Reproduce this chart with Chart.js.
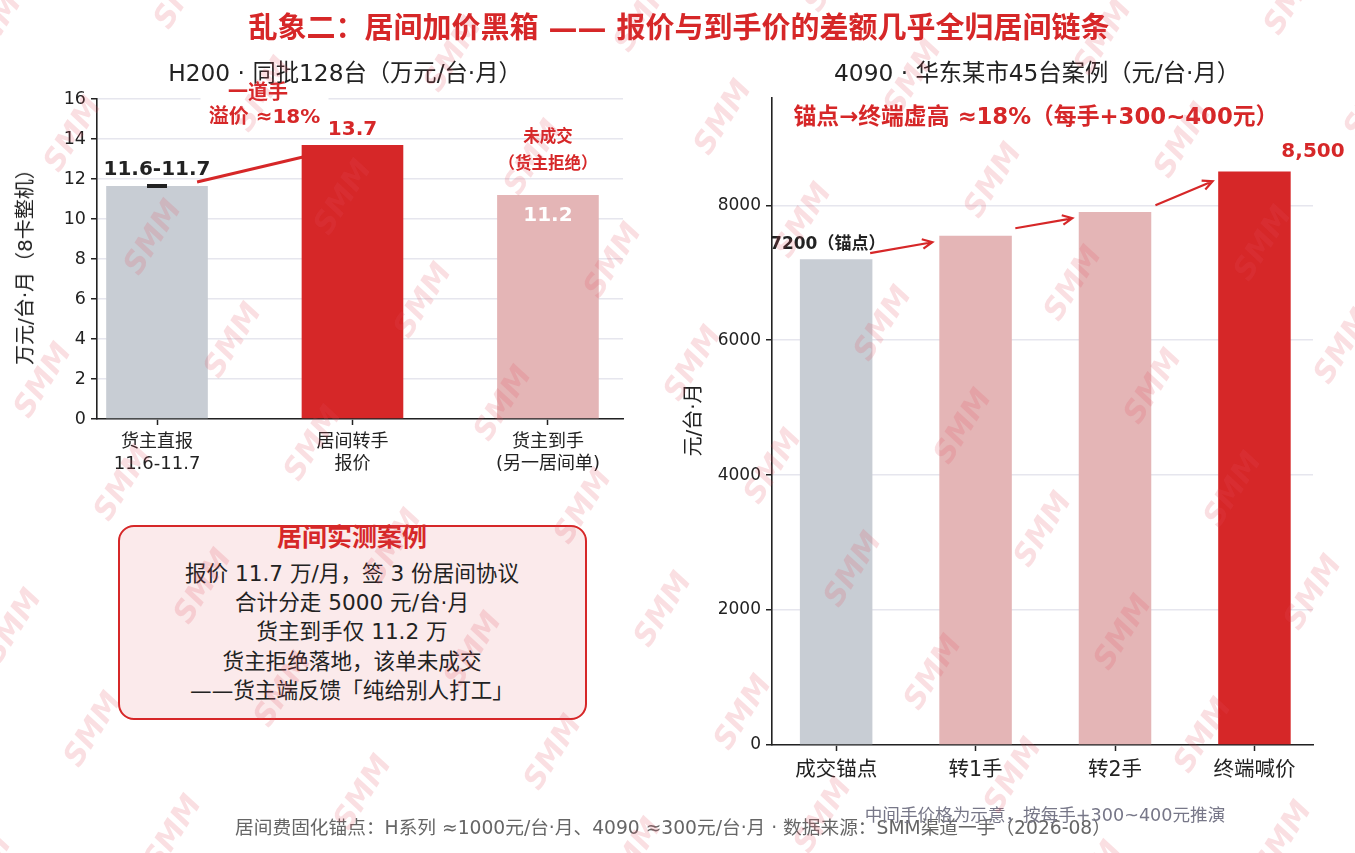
<!DOCTYPE html>
<html>
<head>
<meta charset="utf-8">
<script src="https://cdn.jsdelivr.net/npm/chart.js@4.4.0/dist/chart.umd.min.js"></script>
<style>
body{margin:0;background:#fff;width:1355px;height:853px;overflow:hidden;position:relative;font-family:'DejaVu Sans','Noto Sans CJK SC',sans-serif;color:#222;}
.t{position:absolute;white-space:nowrap;transform:translate(-50%,-50%);line-height:1;}
.wrap{position:absolute;}
#box{position:absolute;left:118px;top:525px;width:465px;height:191px;border:2.5px solid #d62728;border-radius:16px;background:#fbeaeb;}
#wm{position:absolute;left:0;top:0;pointer-events:none;}
</style>
</head>
<body>
<div class="wrap" style="left:0;top:0;width:680px;height:500px"><canvas id="h200"></canvas></div>
<div class="wrap" style="left:680px;top:0;width:675px;height:853px"><canvas id="g4090"></canvas></div>
<div id="box"></div>
<div id="texts"></div>
<canvas id="wm" width="1355" height="853"></canvas>
<script>
var FONT = "'DejaVu Sans','Noto Sans CJK SC',sans-serif";
var RED = '#d62728';

// H200 left panel
var h200Labels = [['货主直报', '11.6-11.7'], ['居间转手', '报价'], ['货主到手', '(另一居间单)']];
var h200Values = [11.65, 13.7, 11.2];
var h200Range = [11.6, 11.7];
var h200Ticks = [0, 2, 4, 6, 8, 10, 12, 14, 16];
var h200Colors = ['#c8cdd4', RED, '#e4b5b6'];

// 4090 right panel
var g4090Labels = ['成交锚点', '转1手', '转2手', '终端喊价'];
var g4090Values = [7200, 7550, 7900, 8500];
var g4090Ticks = [0, 2000, 4000, 6000, 8000];
var g4090Colors = ['#c8cdd4', '#e4b5b6', '#e4b5b6', RED];

function txt(ctx, s, x, y, size, color, bold) {
  ctx.save();
  ctx.font = (bold ? 'bold ' : '') + size + 'px ' + FONT;
  ctx.fillStyle = color;
  ctx.textAlign = 'center';
  ctx.textBaseline = 'middle';
  ctx.fillText(s, x, y);
  ctx.restore();
}

function arrow(ctx, x1, y1, x2, y2) {
  var a = Math.atan2(y2 - y1, x2 - x1), h = 11;
  ctx.save();
  ctx.strokeStyle = RED; ctx.lineWidth = 2.2;
  ctx.beginPath();
  ctx.moveTo(x1, y1); ctx.lineTo(x2, y2);
  ctx.moveTo(x2 - h * Math.cos(a - 0.45), y2 - h * Math.sin(a - 0.45));
  ctx.lineTo(x2, y2);
  ctx.lineTo(x2 - h * Math.cos(a + 0.45), y2 - h * Math.sin(a + 0.45));
  ctx.stroke();
  ctx.restore();
}

var h200Notes = {
  id: 'h200Notes',
  afterDatasetsDraw: function(chart) {
    var ctx = chart.ctx, x = chart.scales.x, y = chart.scales.y;
    var cx = x.getPixelForValue(0);
    // range marker on the first bar
    ctx.save();
    ctx.fillStyle = '#222';
    var yTop = y.getPixelForValue(h200Range[1]), yBot = y.getPixelForValue(h200Range[0]);
    ctx.fillRect(cx - 10, yTop - 1, 20, yBot - yTop + 2);
    ctx.restore();
    // value labels
    txt(ctx, '11.6-11.7', cx, y.getPixelForValue(h200Values[0]) - 16, 20, '#222', true);
    txt(ctx, '13.7', x.getPixelForValue(1), y.getPixelForValue(h200Values[1]) - 15, 20, RED, true);
    txt(ctx, '11.2', x.getPixelForValue(2), y.getPixelForValue(h200Values[2]) + 21, 20, '#fff', true);
    txt(ctx, '未成交', x.getPixelForValue(2), y.getPixelForValue(14.05), 16.5, RED, true);
    txt(ctx, '（货主拒绝）', x.getPixelForValue(2), y.getPixelForValue(12.7), 16.5, RED, true);
    // premium connector
    ctx.save();
    ctx.strokeStyle = RED; ctx.lineWidth = 3;
    ctx.beginPath();
    ctx.moveTo(x.getPixelForValue(0.205), y.getPixelForValue(11.85));
    ctx.lineTo(x.getPixelForValue(0.747), y.getPixelForValue(13.1));
    ctx.stroke();
    // white label box
    var lx1 = x.getPixelForValue(0.517), ly1 = y.getPixelForValue(16.25);
    var lx2 = x.getPixelForValue(0.55), ly2 = y.getPixelForValue(15.05);
    ctx.fillStyle = '#fff';
    ctx.fillRect(lx2 - 64, ly1 - 13, 128, ly2 - ly1 + 26);
    ctx.restore();
    txt(ctx, '一道手', lx1, ly1, 20, RED, true);
    txt(ctx, '溢价 ≈18%', lx2, ly2, 20, RED, true);
  }
};

var g4090Notes = {
  id: 'g4090Notes',
  afterDatasetsDraw: function(chart) {
    var ctx = chart.ctx, x = chart.scales.x, y = chart.scales.y;
    txt(ctx, '7200（锚点）', x.getPixelForValue(-0.06), y.getPixelForValue(7420), 17, '#222', true);
    txt(ctx, '8,500', x.getPixelForValue(3.42), y.getPixelForValue(8800), 20, RED, true);
    arrow(ctx, x.getPixelForValue(0.244), y.getPixelForValue(7290), x.getPixelForValue(0.69), y.getPixelForValue(7452));
    arrow(ctx, x.getPixelForValue(1.285), y.getPixelForValue(7660), x.getPixelForValue(1.694), y.getPixelForValue(7807));
    arrow(ctx, x.getPixelForValue(2.29), y.getPixelForValue(8000), x.getPixelForValue(2.70), y.getPixelForValue(8356));
  }
};

function axisX(min, max, labels, size, fitH) {
  return {
    type: 'linear', min: min, max: max, offset: false,
    afterBuildTicks: function(s) { s.ticks = labels.map(function(l, i) { return {value: i}; }); },
    afterFit: function(s) { s.height = fitH; },
    ticks: {
      color: '#222', font: {family: FONT, size: size}, padding: 7, maxRotation: 0, autoSkip: false,
      callback: function(v) { return labels[v]; }
    },
    grid: {offset: false, drawOnChartArea: false, drawTicks: true, tickLength: 6, tickColor: '#222', tickWidth: 1.5},
    border: {color: '#222', width: 1.6}
  };
}

function axisY(min, max, ticks, size, fitW) {
  return {
    min: min, max: max,
    afterBuildTicks: function(s) { s.ticks = ticks.map(function(v) { return {value: v}; }); },
    afterFit: function(s) { s.width = fitW; },
    ticks: {color: '#222', font: {family: FONT, size: size}, padding: 5, callback: function(v) { return String(v); }},
    grid: {color: '#e6e6ee', lineWidth: 1.5, drawTicks: true, tickLength: 6, tickColor: '#222', tickWidth: 1.5},
    border: {color: '#222', width: 1.6}
  };
}

Chart.defaults.animation = false;

new Chart(document.getElementById('h200'), {
  type: 'bar',
  data: {
    datasets: [{
      data: h200Values.map(function(v, i) { return {x: i, y: v}; }),
      backgroundColor: h200Colors,
      barPercentage: 0.52,
      categoryPercentage: 1.0
    }]
  },
  options: {
    responsive: true, maintainAspectRatio: false,
    layout: {padding: {top: 99, right: 57, left: 0, bottom: 0}},
    plugins: {legend: {display: false}, tooltip: {enabled: false}},
    scales: {
      x: axisX(-0.307, 2.384, h200Labels, 18, 81),
      y: axisY(0, 16, h200Ticks, 17.5, 97)
    }
  },
  plugins: [h200Notes]
});

new Chart(document.getElementById('g4090'), {
  type: 'bar',
  data: {
    datasets: [{
      data: g4090Values.map(function(v, i) { return {x: i, y: v}; }),
      backgroundColor: g4090Colors,
      barPercentage: 0.52,
      categoryPercentage: 1.0
    }]
  },
  options: {
    responsive: true, maintainAspectRatio: false,
    layout: {padding: {top: 98, right: 42, left: 0, bottom: 0}},
    plugins: {legend: {display: false}, tooltip: {enabled: false}},
    scales: {
      x: axisX(-0.46, 3.42, g4090Labels, 20.5, 108),
      y: axisY(0, 9590, g4090Ticks, 17, 92)
    }
  },
  plugins: [g4090Notes]
});

// page texts
var notes = [
  ['乱象二：居间加价黑箱 —— 报价与到手价的差额几乎全归居间链条', 679, 28, 29, RED, true],
  ['H200 · 同批128台（万元/台·月）', 345, 73, 23.3, '#222', false],
  ['4090 · 华东某市45台案例（元/台·月）', 1037, 73, 23.3, '#222', false],
  ['锚点→终端虚高 ≈18%（每手+300~400元）', 1036, 116, 22.8, RED, true],
  ['居间实测案例', 352, 537, 25, RED, true],
  ['报价 11.7 万/月，签 3 份居间协议', 352, 574, 21.6, '#222', false],
  ['合计分走 5000 元/台·月', 352, 603, 21.6, '#222', false],
  ['货主到手仅 11.2 万', 352, 632, 21.6, '#222', false],
  ['货主拒绝落地，该单未成交', 352, 662, 21.6, '#222', false],
  ['——货主端反馈「纯给别人打工」', 352, 691, 21.6, '#222', false],
  ['居间费固化锚点：H系列 ≈1000元/台·月、4090 ≈300元/台·月 · 数据来源：SMM渠道一手（2026-08）', 673, 828, 18.7, '#666', false],
  ['中间手价格为示意，按每手+300~400元推演', 1045, 816, 17.6, '#778', false]
];
var box = document.getElementById('texts');
notes.forEach(function(n) {
  var d = document.createElement('div');
  d.className = 't';
  d.textContent = n[0];
  d.style.left = n[1] + 'px'; d.style.top = n[2] + 'px';
  d.style.fontSize = n[3] + 'px'; d.style.color = n[4];
  d.style.fontWeight = n[5] ? 'bold' : 'normal';
  box.appendChild(d);
});
[['万元/台·月（8卡整机）', 25, 262], ['元/台·月', 693, 420]].forEach(function(n) {
  var d = document.createElement('div');
  d.className = 't';
  d.textContent = n[0];
  d.style.left = n[1] + 'px'; d.style.top = n[2] + 'px';
  d.style.fontSize = '20px';
  d.style.transform = 'translate(-50%,-50%) rotate(-90deg)';
  box.appendChild(d);
});

// SMM watermark tiles
var wm = document.getElementById('wm').getContext('2d');
wm.font = 'italic bold 30px ' + FONT;
wm.fillStyle = 'rgba(228,80,92,0.18)';
wm.textAlign = 'center'; wm.textBaseline = 'middle';
for (var i = -12; i < 14; i++) {
  for (var j = -8; j < 10; j++) {
    var px = 14 + 80 * i + 190 * j, py = 627 + 103 * i - 40 * j;
    if (px < -40 || px > 1400 || py < -40 || py > 900) continue;
    wm.save();
    wm.translate(px, py);
    wm.rotate(-58 * Math.PI / 180);
    wm.fillText('SMM', 0, 0);
    wm.restore();
  }
}
</script>
</body>
</html>
